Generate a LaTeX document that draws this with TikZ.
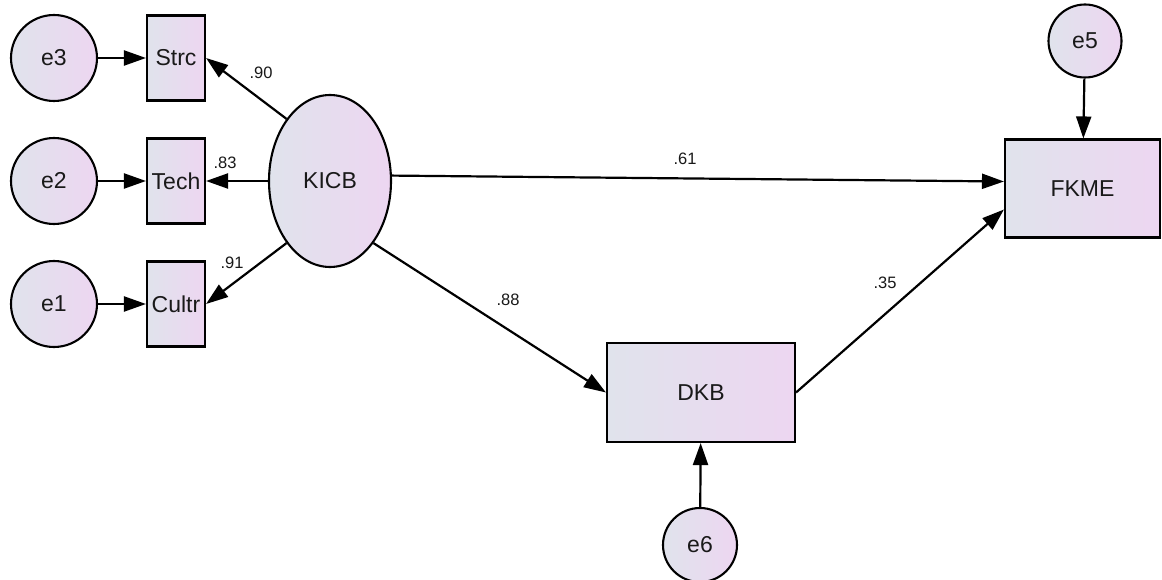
\documentclass[tikz,border=0pt]{standalone}
\usepackage{fontspec}
\setmainfont{Liberation Sans}
\usetikzlibrary{arrows.meta,shapes.geometric}
\definecolor{lft}{HTML}{E0E3EC}
\definecolor{rgt}{HTML}{EDD6F1}
\tikzset{
  x=1pt,y=-1pt,
  base/.style={draw=black,line width=2.1pt,left color=lft,right color=rgt,inner sep=0pt,font=\fontsize{23}{25}\selectfont,text=black!90},
  err/.style={base,circle,minimum size=#1},
  obs/.style={base,rectangle,minimum width=58pt,minimum height=85pt},
  big/.style={base,rectangle,minimum width=#1,minimum height=98pt},
  lat/.style={base,ellipse,minimum width=122pt,minimum height=172pt},
  path/.style={line width=2.2pt,-{Triangle[length=22pt,width=15pt]}},
  lbl/.style={font=\fontsize{16.5}{18}\selectfont,text=black!90,inner sep=0pt}
}
\begin{document}
\begin{tikzpicture}
\useasboundingbox (0,0) rectangle (1162,580);
\fill[white] (0,0) rectangle (1162,580);
% error terms
\node[err=86pt] (e3) at (54,58) {e3};
\node[err=86pt] (e2) at (54,181) {e2};
\node[err=86pt] (e1) at (54,304) {e1};
\node[err=73pt] (e5) at (1085,41) {e5};
\node[err=74pt] (e6) at (700,545) {e6};
% observed
\node[obs] (strc) at (176,58) {Strc};
\node[obs] (tech) at (176,181) {Tech};
\node[obs] (cultr) at (176,304) {Cultr};
% latent
\node[lat] (kicb) at (330,181) {KICB};
% big boxes
\node[big=155pt] (fkme) at (1082.5,188.5) {FKME};
\node[big=188pt,minimum height=99pt] (dkb) at (701,392.5) {DKB};
% arrows
\draw[path] (e3) -- (strc);
\draw[path] (e2) -- (tech);
\draw[path] (e1) -- (cultr);
\draw[path] (kicb.125) -- (strc.east);
\draw[path] (kicb.west) -- (tech.east);
\draw[path] (kicb.235) -- (cultr.east);
\draw[path] (kicb.5) -- ([yshift=7pt]fkme.west);
\draw[path] (kicb.-55) -- (dkb.west);
\draw[path] (dkb.east) -- ([yshift=-21pt]fkme.west);
\draw[path] (e5) -- (fkme);
\draw[path] (e6) -- (dkb);
% labels
\node[lbl] (l90) at (261,73) {.90};
\node[lbl] (l83) at (225,163) {.83};
\node[lbl] (l91) at (232,263) {.91};
\node[lbl] (l61) at (685,159) {.61};
\node[lbl] (l88) at (508,300) {.88};
\node[lbl] (l35) at (885,283) {.35};
\end{tikzpicture}
\end{document}
